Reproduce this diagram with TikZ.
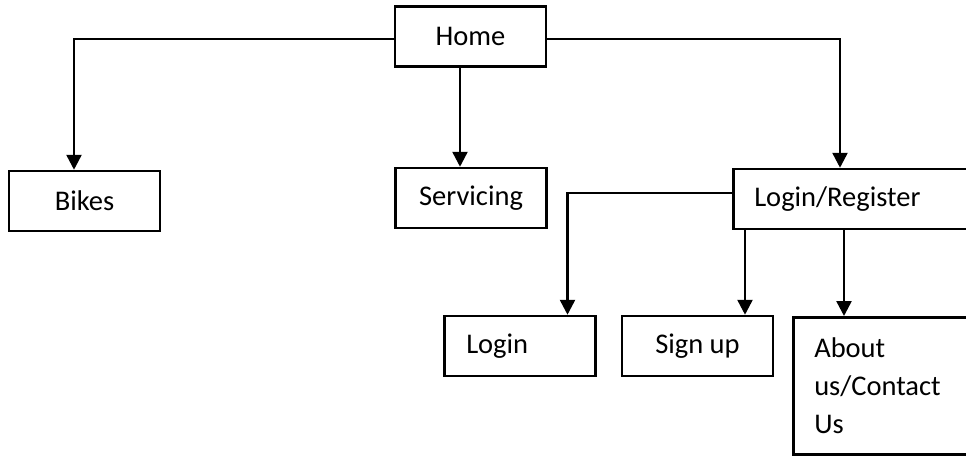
\documentclass[tikz,border=0pt]{standalone}
\usepackage{fontspec}
\setmainfont{Carlito}
\usetikzlibrary{arrows.meta}

\tikzset{
  box/.style={draw, line width=2.5pt, minimum width=151pt, minimum height=60pt, inner sep=0pt},
  link/.style={line width=2.5pt},
  arr/.style={link, -{Triangle[length=15pt, width=15pt]}}
}

\begin{document}
\begin{tikzpicture}[x=1pt, y=-1pt, font=\fontsize{28.5pt}{38pt}\selectfont]
        \clip (0,0) rectangle (966,463);
        % Boxes
        \node (home) at (470.5, 36.5) [box] {Home};
        \node (bikes) at (84.5, 201) [box] {Bikes};
        \node (serv) at (471, 198) [box] {Servicing};
        \node (logreg) at (732, 199) [box, anchor=west, align=left, text width=260pt, inner xsep=21pt] {Login/Register};
        \node (login) at (443, 346) [box, anchor=west, align=left, text width=107pt, inner xsep=22pt] {Login};
        \node (signup) at (697.5, 346) [box] {Sign up};
        \node (about) at (792, 316) [box, anchor=north west, align=left, text width=150pt, inner xsep=21pt, minimum height=137pt] {About\\us/Contact\\Us};
        % Links
        \draw[arr] ([yshift=-2.5pt]home.west) -| ([xshift=-10.5pt]bikes.north);
        \draw[arr] ([xshift=-10.5pt]home.south) -- ([xshift=-11pt]serv.north);
        \draw[arr] ([yshift=-2.5pt]home.east) -| ([xshift=108pt]logreg.north west);
        \draw[arr] ([yshift=6pt]logreg.west) -| ([xshift=-29pt]login.north east);
        \draw[arr] ([xshift=13pt]logreg.south west) -- ([xshift=13pt]logreg.south west |- signup.north);
        \draw[arr] ([xshift=112pt]logreg.south west) -- ([xshift=112pt]logreg.south west |- about.north);
    \end{tikzpicture}
\end{document}
